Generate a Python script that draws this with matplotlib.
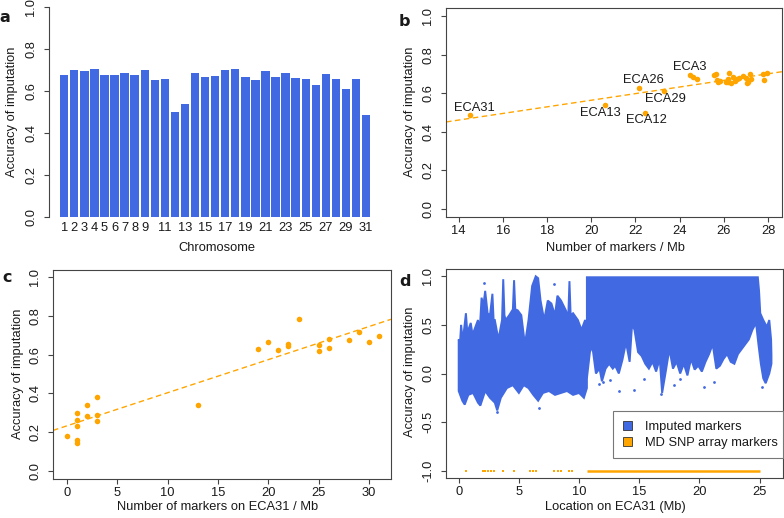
import numpy as np
import matplotlib
matplotlib.use("Agg")
import matplotlib.pyplot as plt
from matplotlib.patches import Patch

plt.rcParams['font.family'] = ['Liberation Sans', 'DejaVu Sans']
plt.rcParams['font.size'] = 9.3

# ---------------- data ----------------
chromosomes = list(range(1, 32))
accuracy_chr = [0.674, 0.698, 0.693, 0.704, 0.676, 0.674, 0.688, 0.677, 0.698, 0.652,
                0.658, 0.499, 0.537, 0.684, 0.666, 0.672, 0.701, 0.704, 0.669, 0.652,
                0.695, 0.665, 0.684, 0.661, 0.658, 0.629, 0.679, 0.657, 0.609, 0.658,
                0.486]
chr_tick_labels = [1, 2, 3, 4, 5, 6, 7, 8, 9, 11, 13, 15, 17, 19, 21, 23, 25, 27, 29, 31]

markers_per_mb = [24.80, 25.64, 24.45, 27.96, 27.21, 26.20, 26.85, 27.00, 27.18, 26.30,
                  26.17, 22.42, 20.63, 24.62, 27.81, 26.60, 27.78, 26.23, 25.67, 27.05,
                  25.55, 25.82, 26.43, 26.50, 27.10, 22.16, 26.70, 26.10, 23.28, 25.75,
                  14.53]
labelled_chr = ["ECA31", "ECA13", "ECA26", "ECA12", "ECA29", "ECA3"]

eca31_markers = [0, 1, 1, 1, 1, 1, 2, 2, 3, 3, 3, 13, 19, 20, 21, 22, 22, 23,
                 25, 25, 26, 26, 28, 29, 30, 31]
eca31_accuracy = [0.180, 0.299, 0.263, 0.234, 0.158, 0.143, 0.340, 0.284, 0.380, 0.289,
                  0.259, 0.340, 0.631, 0.663, 0.624, 0.653, 0.643, 0.784, 0.649, 0.619,
                  0.682, 0.636, 0.675, 0.715, 0.666, 0.694]

# panel d: envelope of the dense cloud of imputed markers (Mb, accuracy)
left_upper_x = [0.0, 0.1, 0.2, 0.3, 0.4, 0.6, 0.7, 0.8, 1.0, 1.15, 1.3, 1.6, 1.75, 1.9,
                2.05, 2.2, 2.4, 2.6, 2.8, 2.9, 3.0, 3.3, 3.6, 3.7, 3.8, 3.9, 4.2, 4.5,
                4.6, 4.7, 4.9, 5.2, 5.5, 5.8, 6.1, 6.4, 6.6, 6.8, 7.1, 7.4, 7.7, 8.0,
                8.2, 8.5, 8.9, 9.1, 9.2, 9.3, 9.5, 9.9, 10.2, 10.5, 10.65]
left_upper_y = [0.35, 0.30, 0.50, 0.38, 0.40, 0.62, 0.45, 0.45, 0.52, 0.40, 0.45, 0.55,
                0.45, 0.78, 0.70, 0.85, 0.62, 0.60, 0.82, 0.55, 0.55, 0.35, 0.55, 0.97,
                0.60, 0.55, 0.60, 0.66, 0.96, 0.66, 0.65, 0.60, 0.30, 0.55, 0.90, 1.00,
                0.98, 0.75, 0.55, 0.75, 0.72, 0.60, 0.80, 0.75, 0.65, 0.58, 0.95, 0.60,
                0.62, 0.55, 0.45, 0.55, 0.50]
left_lower_x = [0.0, 0.3, 0.5, 0.8, 1.2, 1.6, 1.8, 2.2, 2.6, 3.0, 3.2, 3.5, 4.0, 4.5, 5.0,
                5.4, 5.8, 6.2, 6.6, 7.0, 7.5, 8.0, 8.5, 9.0, 9.5, 10.0, 10.4, 10.65]
left_lower_y = [-0.18, -0.28, -0.32, -0.22, -0.20, -0.30, -0.33, -0.18, -0.25, -0.30, -0.38,
                -0.25, -0.15, -0.12, -0.20, -0.12, -0.15, -0.22, -0.28, -0.20, -0.18, -0.22,
                -0.20, -0.18, -0.22, -0.20, -0.25, -0.15]
right_upper_x = [10.65, 24.85, 24.95, 25.05, 25.3, 25.6, 25.8, 25.95, 25.98]
right_upper_y = [0.99, 0.99, 0.85, 0.62, 0.55, 0.48, 0.55, 0.35, 0.20]
right_lower_x = [10.65, 10.9, 11.1, 11.4, 11.7, 11.9, 12.2, 12.5, 12.8, 13.0, 13.3, 13.6,
                 13.9, 14.2, 14.4, 14.6, 14.9, 15.2, 15.5, 15.8, 16.1, 16.4, 16.7, 16.9,
                 17.2, 17.5, 17.8, 18.1, 18.4, 18.7, 19.0, 19.3, 19.6, 19.9, 20.2, 20.5,
                 20.8, 21.1, 21.4, 21.7, 22.0, 22.3, 22.6, 22.9, 23.2, 23.5, 23.8, 24.1,
                 24.4, 24.7, 24.9, 25.1, 25.3, 25.5, 25.8, 25.98]
right_lower_y = [-0.05, 0.22, 0.28, 0.00, 0.05, -0.08, 0.05, 0.10, 0.05, 0.08, 0.00, 0.14,
                 0.32, 0.12, 0.50, 0.45, 0.22, 0.18, 0.10, 0.05, 0.12, 0.02, 0.15, -0.20,
                 0.02, 0.25, 0.05, 0.12, 0.00, 0.10, -0.02, 0.15, 0.04, 0.08, 0.02, 0.12,
                 0.20, 0.30, 0.05, 0.08, 0.15, 0.20, 0.12, 0.10, 0.20, 0.25, 0.30, 0.35,
                 0.45, 0.52, 0.30, 0.10, -0.05, -0.10, 0.00, 0.10]
outlier_x = [2.08, 7.95, 11.63, 11.97, 12.6, 13.3, 14.6, 15.4, 16.84, 17.9, 18.4, 20.4,
             21.2, 25.2, 6.7, 3.2]
outlier_y = [0.93, 0.92, -0.11, -0.09, -0.07, -0.18, -0.17, -0.06, -0.21, -0.12, -0.06,
             -0.14, -0.09, -0.14, -0.35, -0.40]
array_sparse = [0.61, 1.99, 2.22, 2.44, 2.71, 2.96, 3.68, 4.60, 5.90, 6.20, 6.40, 7.95,
                8.23, 8.50, 9.14, 9.42]
array_dense_start, array_dense_end = 10.65, 25.0

# ---------------- style ----------------
BLUE = '#4169E1'
ORANGE = '#FFA500'
AX = '#444444'
TXT = '#1a1a1a'
W, H = 784, 518
FS = 9.3
fig = plt.figure(figsize=(W / 100, H / 100), dpi=100)


def add_ax(l, t, r, b):
    return fig.add_axes([l / W, 1 - b / H, (r - l) / W, (b - t) / H])


def ftext(x, y, s, **kw):
    fig.text(x / W, 1 - y / H, s, ha='center', va='center', color=TXT, **kw)


def style(ax, box=True):
    for sp in ax.spines.values():
        sp.set_color(AX)
        sp.set_linewidth(0.8)
        sp.set_visible(box)
    ax.tick_params(direction='out', length=3.6, width=0.8, color=AX,
                   labelcolor=TXT, labelsize=FS)
    ax.tick_params(axis='x', pad=2.0)
    ax.tick_params(axis='y', pad=5.0)


yt01 = [0.0, 0.2, 0.4, 0.6, 0.8, 1.0]
yt01_lab = ['%.1f' % v for v in yt01]

# ---------------- panel a ----------------
axa = add_ax(49, 7, 383, 217)
style(axa, box=False)
axa.spines['left'].set_visible(True)
pos = [0.7 + 1.2 * (c - 1) for c in chromosomes]
axa.bar(pos, accuracy_chr, width=1.0, color=BLUE, edgecolor='none')
axa.set_xlim(-1.11, 38.71)
axa.set_ylim(0, 1)
axa.set_yticks(yt01, yt01_lab, rotation=90, va='center')
axa.set_xticks([pos[c - 1] for c in chr_tick_labels], [str(c) for c in chr_tick_labels])
axa.tick_params(axis='x', length=0, pad=3.5)
ftext(12, 112, 'Accuracy of imputation', rotation=90)
ftext(217, 248, 'Chromosome')
ftext(5, 18, 'a', fontsize=11.5, fontweight='bold', family='DejaVu Sans')

# ---------------- panel b ----------------
axb = add_ax(446, 8, 782, 217)
style(axb)
axb.scatter(markers_per_mb, accuracy_chr, s=16, color=ORANGE, linewidths=0, zorder=3)
sl, ic = np.polyfit(markers_per_mb, accuracy_chr, 1)
axb.axline((0, ic), slope=sl, color=ORANGE, lw=1.0, ls=(0, (4, 2.5)), zorder=2)
lab_offsets = {"ECA31": (2.7, 5.3), "ECA13": (-3.5, -5.8), "ECA26": (2.9, 5.3),
               "ECA12": (1.3, -5.1), "ECA29": (1.1, -5.5), "ECA3": (0, 5.7)}
for name in labelled_chr:
    c = int(name[3:])
    axb.annotate(name, (markers_per_mb[c - 1], accuracy_chr[c - 1]),
                 xytext=lab_offsets[name], textcoords='offset points',
                 ha='center', va='center', fontsize=FS, color=TXT)
axb.set_xlim(13.425, 28.63)
axb.set_ylim(-0.0415, 1.0415)
axb.set_xticks(range(14, 29, 2))
axb.set_yticks(yt01, yt01_lab, rotation=90, va='center')
ftext(410, 112, 'Accuracy of imputation', rotation=90)
ftext(615, 248, 'Number of markers / Mb')
ftext(404, 22, 'b', fontsize=11.5, fontweight='bold', family='DejaVu Sans')

# ---------------- panel c ----------------
axc = add_ax(53, 270, 391, 479)
style(axc)
axc.scatter(eca31_markers, eca31_accuracy, s=16, color=ORANGE, linewidths=0, zorder=3)
sl2, ic2 = np.polyfit(eca31_markers, eca31_accuracy, 1)
axc.axline((0, ic2), slope=sl2, color=ORANGE, lw=1.0, ls=(0, (4, 2.5)), zorder=2)
axc.set_xlim(-1.36, 32.17)
axc.set_ylim(-0.041, 1.036)
axc.set_xticks(range(0, 31, 5))
axc.set_yticks(yt01, yt01_lab, rotation=90, va='center')
ftext(18, 374, 'Accuracy of imputation', rotation=90)
ftext(218, 507, 'Number of markers on ECA31 / Mb')
ftext(7, 278, 'c', fontsize=11.5, fontweight='bold', family='DejaVu Sans')

# ---------------- panel d ----------------
axd = add_ax(446, 269, 783, 478)
style(axd)
for ux, uy, lx, ly in [(left_upper_x, left_upper_y, left_lower_x, left_lower_y),
                       (right_upper_x, right_upper_y, right_lower_x, right_lower_y)]:
    px = list(ux) + list(lx)[::-1]
    py = list(uy) + list(ly)[::-1]
    axd.fill(px, py, facecolor=BLUE, edgecolor=BLUE, lw=1.4, zorder=2)
axd.scatter(outlier_x, outlier_y, s=4, color=BLUE, linewidths=0, zorder=2)
axd.hlines(-1, array_dense_start, array_dense_end, color=ORANGE, lw=1.8, zorder=3)
axd.scatter(array_sparse, [-1] * len(array_sparse), marker='s', s=3.5,
            color=ORANGE, linewidths=0, zorder=3)
axd.set_xlim(-1.055, 26.94)
axd.set_ylim(-1.075, 1.075)
axd.set_xticks(range(0, 26, 5))
ytd = [-1.0, -0.5, 0.0, 0.5, 1.0]
axd.set_yticks(ytd, ['%.1f' % v for v in ytd], rotation=90, va='center')
handles = [Patch(facecolor=BLUE, edgecolor='#333333', lw=0.6, label='Imputed markers'),
           Patch(facecolor=ORANGE, edgecolor='#333333', lw=0.6, label='MD SNP array markers')]
leg = axd.legend(handles=handles, loc='upper left',
                 bbox_to_anchor=(613 / W, 1 - 458 / H, (783 - 613) / W, (458 - 411) / H),
                 bbox_transform=fig.transFigure, mode='expand', borderaxespad=0,
                 fancybox=False, framealpha=1, edgecolor='#777777', fontsize=FS,
                 borderpad=0.75, labelspacing=0.3, handlelength=0.7, handleheight=0.7,
                 handletextpad=1.0)
leg.get_frame().set_linewidth(0.8)
for t in leg.get_texts():
    t.set_color(TXT)
ftext(410, 372, 'Accuracy of imputation', rotation=90)
ftext(615, 507, 'Location on ECA31 (Mb)')
ftext(405, 281, 'd', fontsize=11.5, fontweight='bold', family='DejaVu Sans')

fig.savefig('out.png', dpi=100)
